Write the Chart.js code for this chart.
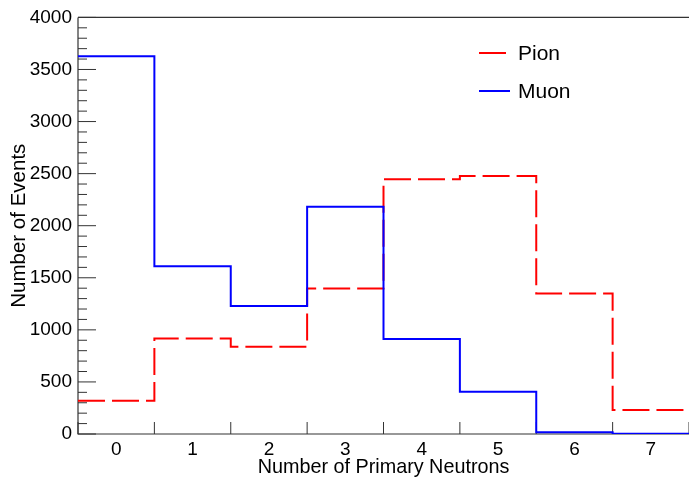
<!DOCTYPE html>
<html>
<head>
<meta charset="utf-8">
<script src="https://cdn.jsdelivr.net/npm/chart.js@4.4.1/dist/chart.umd.min.js"></script>
<style>
  html, body { margin: 0; padding: 0; background: #fff; overflow: hidden; }
  canvas { display: block; }
</style>
</head>
<body>
<canvas id="c" width="689" height="478"></canvas>
<script>
// Bins: number of primary neutrons per event
const neutronBins = [0, 1, 2, 3, 4, 5, 6, 7];
// Events per bin for each particle type
const pionEvents = [320, 918, 838, 1397, 2445, 2478, 1350, 230];
const muonEvents = [3626, 1611, 1228, 2182, 911, 405, 16, 3];
// Axis tick values
const yMajorTicks = [0, 500, 1000, 1500, 2000, 2500, 3000, 3500, 4000];
const yMinorStep = 100;
const seriesNames = ['Pion', 'Muon'];

const FONT = "'Liberation Sans', Arial, Helvetica, sans-serif";
const RED = '#ff0000';
const BLUE = '#0000ff';
const AXIS = '#333333';
const DASH = [27, 7];

// Histogram outline: one point per left bin edge plus the final right edge
function edgePoints(values) {
  const pts = values.map((v, i) => ({ x: neutronBins[i] - 0.5, y: v }));
  pts.push({ x: neutronBins[neutronBins.length - 1] + 0.5, y: values[values.length - 1] });
  return pts;
}

// Frame, inward ticks (ROOT style) and the legend box
const histFrame = {
  id: 'histFrame',
  beforeDatasetsDraw(chart) {
    const { ctx, chartArea: a, scales: { x, y } } = chart;
    ctx.save();
    ctx.strokeStyle = AXIS;
    ctx.lineWidth = 1;
    // y ticks: majors every 500, minors every 100
    const yMax = y.max;
    for (let v = 0; v <= yMax; v += yMinorStep) {
      const py = y.getPixelForValue(v);
      const len = (v % 500 === 0) ? 18 : 9;
      ctx.beginPath();
      ctx.moveTo(a.left, py);
      ctx.lineTo(a.left + len, py);
      ctx.stroke();
    }
    // x ticks at bin edges
    for (let i = 0; i <= neutronBins.length; i++) {
      const px = x.getPixelForValue(neutronBins[0] - 0.5 + i);
      ctx.beginPath();
      ctx.moveTo(px, a.bottom);
      ctx.lineTo(px, a.bottom - 12);
      ctx.stroke();
    }
    // frame lines
    ctx.lineWidth = 1.2;
    ctx.beginPath();
    ctx.moveTo(a.left, a.top);
    ctx.lineTo(a.right, a.top);
    ctx.moveTo(a.left, a.top);
    ctx.lineTo(a.left, a.bottom);
    ctx.lineTo(a.right, a.bottom);
    ctx.stroke();
    ctx.restore();
  },
  afterDraw(chart) {
    const { ctx } = chart;
    const rows = [
      { label: seriesNames[0], color: RED, y: 53, x1: 506 },
      { label: seriesNames[1], color: BLUE, y: 91, x1: 510 }
    ];
    ctx.save();
    ctx.font = '21px ' + FONT;
    ctx.textBaseline = 'middle';
    ctx.textAlign = 'left';
    rows.forEach(r => {
      ctx.strokeStyle = r.color;
      ctx.lineWidth = 2;
      ctx.beginPath();
      ctx.moveTo(479, r.y);
      ctx.lineTo(r.x1, r.y);
      ctx.stroke();
      ctx.fillStyle = '#000';
      ctx.fillText(r.label, 518, r.y + 1);
    });
    ctx.restore();
  }
};

new Chart(document.getElementById('c'), {
  type: 'line',
  data: {
    datasets: [
      {
        label: seriesNames[0],
        data: edgePoints(pionEvents),
        borderColor: RED,
        borderWidth: 2,
        borderDash: DASH,
        stepped: 'before',
        pointRadius: 0,
        fill: false,
        order: 1
      },
      {
        label: seriesNames[1],
        data: edgePoints(muonEvents),
        borderColor: BLUE,
        borderWidth: 2,
        stepped: 'before',
        pointRadius: 0,
        fill: false,
        order: 0
      }
    ]
  },
  options: {
    responsive: false,
    animation: false,
    devicePixelRatio: 1,
    layout: { padding: { top: 17, right: 0, left: 0, bottom: 0 } },
    plugins: { legend: { display: false }, tooltip: { enabled: false } },
    scales: {
      x: {
        type: 'linear',
        min: neutronBins[0] - 0.5,
        max: neutronBins[neutronBins.length - 1] + 0.5,
        afterBuildTicks: s => { s.ticks = neutronBins.map(v => ({ value: v })); },
        afterFit: s => { s.height = 44; },
        grid: { display: false, drawTicks: false },
        border: { display: false },
        ticks: { color: '#000', font: { family: FONT, size: 19 }, padding: 4, maxRotation: 0, autoSkip: false },
        title: {
          display: true,
          text: 'Number of Primary Neutrons',
          color: '#000',
          font: { family: FONT, size: 19.8, lineHeight: 1 },
          padding: { top: 0, bottom: 0.3 }
        }
      },
      y: {
        type: 'linear',
        min: yMajorTicks[0],
        max: yMajorTicks[yMajorTicks.length - 1],
        afterBuildTicks: s => { s.ticks = yMajorTicks.map(v => ({ value: v })); },
        afterFit: s => { s.width = 78; },
        grid: { display: false, drawTicks: false },
        border: { display: false },
        ticks: { color: '#000', font: { family: FONT, size: 19 }, padding: 6, callback: v => String(v) },
        title: {
          display: true,
          text: 'Number of Events',
          color: '#000',
          font: { family: FONT, size: 20.5, lineHeight: 1 },
          padding: { top: 9.5, bottom: 0 }
        }
      }
    }
  },
  plugins: [histFrame]
});
</script>
</body>
</html>
